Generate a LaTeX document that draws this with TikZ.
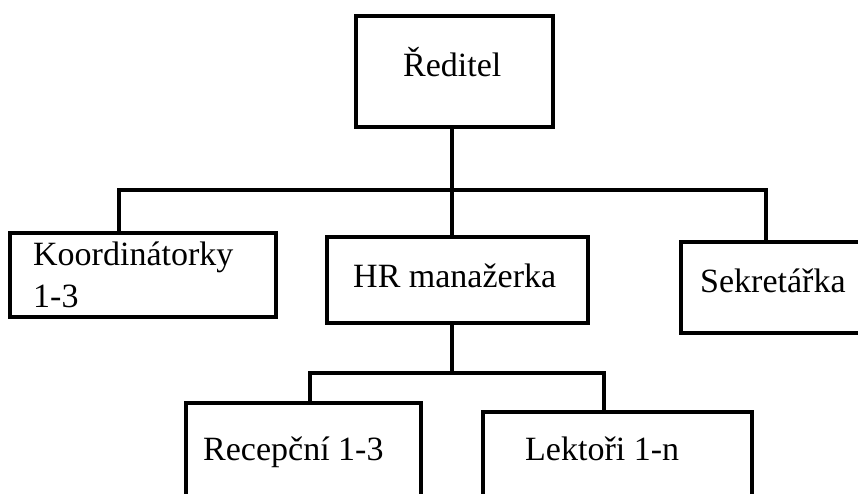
\documentclass[tikz,border=0pt]{standalone}
\usepackage{fontspec}
\setmainfont{Liberation Serif}
\usepackage{tikz}

\begin{document}
\begin{tikzpicture}[x=1pt,y=-1pt]
\tikzstyle{box}=[draw,line width=3.8pt,inner sep=0pt,outer sep=0pt];
\tikzstyle{txt}=[anchor=base west,inner sep=0pt,font=\fontsize{34}{42}\selectfont];
\tikzstyle{conn}=[line width=3.5pt];
\useasboundingbox[fill=white] (0,0) rectangle (858,493);
\clip (0,0) rectangle (858,493);
% boxes
\node [box,minimum width=197pt,minimum height=111pt] (dir) at (454.5,71.5) {};
\node [txt] (dir-t) at (403,76) {Ředitel};
\node [box,minimum width=266pt,minimum height=84pt] (koord) at (143,275) {};
\node [txt] (koord-t1) at (33,265) {Koordinátorky};
\node [txt] (koord-t2) at (33,307) {1-3};
\node [box,minimum width=261pt,minimum height=86pt] (hr) at (457.5,280) {};
\node [txt] (hr-t) at (353,287) {HR manažerka};
\node [box,minimum width=199pt,minimum height=91pt] (sekr) at (780.5,287.5) {};
\node [txt] (sekr-t) at (700,292) {Sekretářka};

\node [box,minimum width=235pt,minimum height=117pt] (rec) at (303.5,461.5) {};
\node [txt] (rec-t) at (203,460) {Recepční 1-3};
\node [box,minimum width=269pt,minimum height=108pt] (lek) at (617.5,466) {};
\node [txt] (lek-t) at (525,460) {Lektoři 1-n};
% connectors
\coordinate (k1) at (452,190);
\coordinate (kL) at (119,190);
\coordinate (kR) at (766,190);
\coordinate (h1) at (452,373);
\coordinate (hL) at (310,373);
\coordinate (hR) at (604,373);
\draw [conn] (k1 |- dir.south) -- (k1);
\draw [conn] (kL |- koord.north) -- (kL) -- (kR) -- (kR |- sekr.north);
\draw [conn] (k1) -- (k1 |- hr.north);
\draw [conn] (h1 |- hr.south) -- (h1);
\draw [conn] (hL |- rec.north) -- (hL) -- (hR) -- (hR |- lek.north);
\end{tikzpicture}
\end{document}
